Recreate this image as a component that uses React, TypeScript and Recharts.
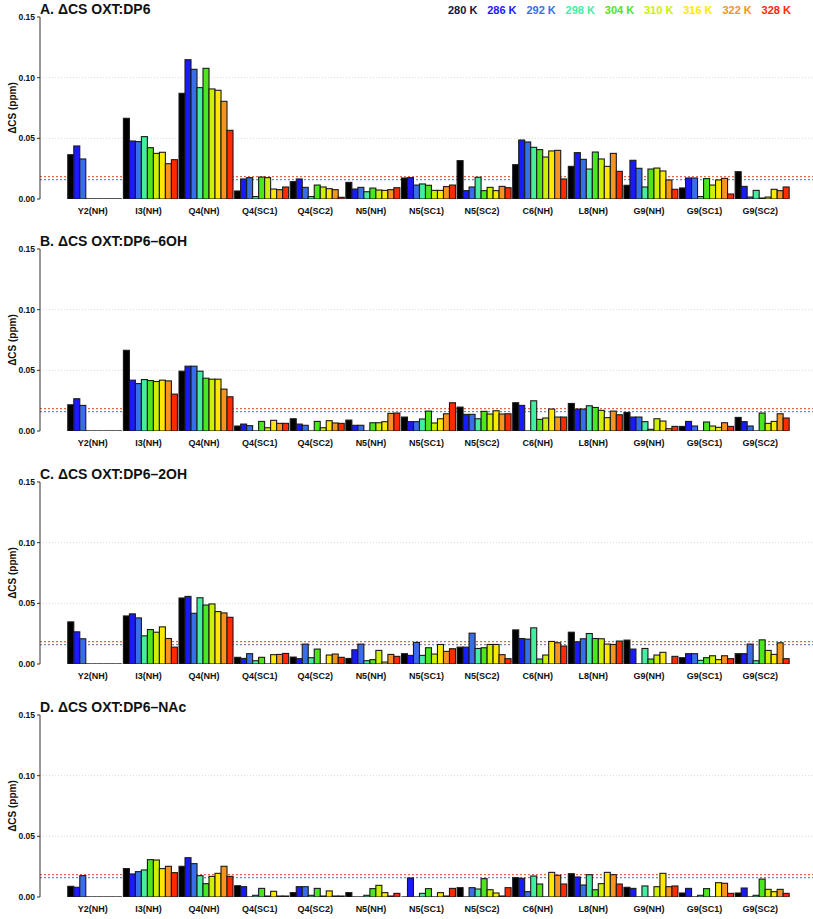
import React from 'react';
import { BarChart, Bar, XAxis, YAxis, CartesianGrid } from 'recharts';

const categories = ['Y2(NH)', 'I3(NH)', 'Q4(NH)', 'Q4(SC1)', 'Q4(SC2)', 'N5(NH)', 'N5(SC1)', 'N5(SC2)', 'C6(NH)', 'L8(NH)', 'G9(NH)', 'G9(SC1)', 'G9(SC2)'];
const temperatures = ['280 K', '286 K', '292 K', '298 K', '304 K', '310 K', '316 K', '322 K', '328 K'];
const barColors = ['#000000', '#1a1aff', '#3a6ee8', '#44eea0', '#4ce61e', '#ccf000', '#ffe800', '#f7931e', '#ff2a00'];
const legendColors = ['#141440', '#1a1aff', '#3a6ee8', '#44eea0', '#4ce61e', '#ccf000', '#ffe800', '#f7931e', '#ff2a00'];
const yTicks = [0, 0.05, 0.1, 0.15];
const gridValues = [0.05, 0.1];
const thresholdRed = 0.0185;
const thresholdBlue = 0.016;

const titles = ['A. \u0394CS OXT:DP6', 'B. \u0394CS OXT:DP6\u20136OH', 'C. \u0394CS OXT:DP6\u20132OH', 'D. \u0394CS OXT:DP6\u2013NAc'];

// rows: one per category, 9 values (280 K ... 328 K)
const panelA = [
  [0.0365, 0.0437, 0.033, 0, 0, 0, 0, 0, 0],
  [0.0665, 0.0478, 0.0473, 0.0514, 0.0423, 0.0376, 0.0385, 0.0291, 0.0324],
  [0.0871, 0.1148, 0.1069, 0.0918, 0.1077, 0.0907, 0.0896, 0.0805, 0.0566],
  [0.0066, 0.0165, 0.0176, 0.002, 0.0181, 0.0176, 0.0082, 0.0077, 0.0099],
  [0.0143, 0.0165, 0.0096, 0.002, 0.0115, 0.0099, 0.0085, 0.0077, 0.0014],
  [0.0137, 0.0082, 0.0096, 0.006, 0.009, 0.0074, 0.0071, 0.0077, 0.0093],
  [0.0173, 0.0176, 0.0115, 0.0124, 0.0113, 0.0071, 0.0071, 0.0102, 0.0115],
  [0.0316, 0.0069, 0.0099, 0.0179, 0.0069, 0.0096, 0.0069, 0.0104, 0.0093],
  [0.0283, 0.0486, 0.047, 0.0426, 0.0407, 0.0346, 0.0396, 0.0401, 0.0165],
  [0.0269, 0.0382, 0.0327, 0.0247, 0.0387, 0.033, 0.0269, 0.0376, 0.0228],
  [0.0113, 0.0319, 0.0253, 0.0099, 0.0247, 0.0255, 0.0231, 0.0157, 0.008],
  [0.0091, 0.0173, 0.0173, 0.002, 0.0168, 0.0115, 0.0157, 0.017, 0.0041],
  [0.0225, 0.0104, 0.0016, 0.0071, 0.0008, 0.0016, 0.008, 0.0069, 0.0099],
];

const panelB = [
  [0.0216, 0.0266, 0.0211, 0, 0, 0, 0, 0, 0],
  [0.0665, 0.0419, 0.0391, 0.0424, 0.0416, 0.0408, 0.0419, 0.0413, 0.0304],
  [0.0493, 0.0534, 0.0534, 0.0493, 0.0435, 0.0427, 0.0427, 0.0345, 0.0282],
  [0.0041, 0.0057, 0.0044, 0, 0.0079, 0.0027, 0.0088, 0.0063, 0.0063],
  [0.0101, 0.0057, 0.0047, 0, 0.0079, 0.0027, 0.0085, 0.0066, 0.0063],
  [0.009, 0.0047, 0.0047, 0, 0.0068, 0.0068, 0.0077, 0.0145, 0.0148],
  [0.0115, 0.0077, 0.0077, 0.0099, 0.0164, 0.0066, 0.0101, 0.0142, 0.0233],
  [0.0197, 0.0137, 0.0137, 0.0101, 0.0162, 0.014, 0.0167, 0.014, 0.0142],
  [0.0233, 0.0211, 0, 0.0249, 0.0096, 0.0107, 0.0181, 0.0115, 0.0115],
  [0.0227, 0.0181, 0.0181, 0.0208, 0.0194, 0.017, 0.011, 0.0164, 0.0134],
  [0.0153, 0.0115, 0.0115, 0.0077, 0.0014, 0.0101, 0.0082, 0.0019, 0.0038],
  [0.0038, 0.0079, 0.0041, 0, 0.0074, 0.0041, 0.003, 0.0068, 0.0038],
  [0.0112, 0.0077, 0.0041, 0, 0.0148, 0.0063, 0.0079, 0.0142, 0.0107],
];

const panelC = [
  [0.0347, 0.0265, 0.0208, 0, 0, 0, 0, 0, 0],
  [0.0396, 0.0413, 0.038, 0.0232, 0.0284, 0.0262, 0.0306, 0.021, 0.0139],
  [0.0544, 0.0557, 0.0418, 0.0546, 0.0486, 0.0495, 0.0432, 0.0421, 0.0385],
  [0.0055, 0.0046, 0.0085, 0.0027, 0.0055, 0, 0.0077, 0.0079, 0.0087],
  [0.0057, 0.0044, 0.0164, 0.0052, 0.0123, 0, 0.0074, 0.0082, 0.0055],
  [0.0046, 0.0117, 0.0164, 0.0027, 0.0036, 0.0112, 0.0016, 0.0079, 0.0063],
  [0.0085, 0.0071, 0.0178, 0.0071, 0.0134, 0.0082, 0.0161, 0.0104, 0.0126],
  [0.0139, 0.0139, 0.0254, 0.0128, 0.0134, 0.0161, 0.0161, 0.0077, 0.0044],
  [0.0281, 0.021, 0.0205, 0.0298, 0.0041, 0.0074, 0.0186, 0.0175, 0.0148],
  [0.0262, 0.0183, 0.0208, 0.0251, 0.021, 0.0208, 0.0164, 0.0161, 0.0189],
  [0.0197, 0.0123, 0, 0.0128, 0.0041, 0.0074, 0.0096, 0, 0.0063],
  [0.0052, 0.0085, 0.0085, 0.003, 0.0052, 0.0068, 0.0036, 0.0068, 0.0044],
  [0.0085, 0.0085, 0.0164, 0.0027, 0.0199, 0.0112, 0.0079, 0.0175, 0.0044],
];

const panelD = [
  [0.0088, 0.008, 0.0176, 0, 0, 0, 0, 0, 0],
  [0.0234, 0.019, 0.0209, 0.0223, 0.0308, 0.0305, 0.0234, 0.0253, 0.0201],
  [0.0253, 0.0324, 0.0275, 0.0176, 0.011, 0.017, 0.0195, 0.0253, 0.017],
  [0.0093, 0.0085, 0, 0.0014, 0.0071, 0.0008, 0.0047, 0.0008, 0.0008],
  [0.0036, 0.0085, 0.0085, 0.0014, 0.0071, 0.0008, 0.005, 0.0008, 0.0008],
  [0.0036, 0, 0, 0.0014, 0.0069, 0.0096, 0.0036, 0.0008, 0.003],
  [0, 0.0157, 0, 0.003, 0.0069, 0, 0.0036, 0.0008, 0.0071],
  [0.0077, 0, 0.0077, 0.0066, 0.0151, 0.006, 0.0033, 0.0008, 0.0077],
  [0.0159, 0.0154, 0.0044, 0.0173, 0.0107, 0, 0.0203, 0.0179, 0.0107],
  [0.0192, 0.0165, 0.0099, 0.0184, 0.006, 0.011, 0.0203, 0.0184, 0.0107],
  [0.008, 0.0071, 0, 0.0091, 0, 0.0085, 0.0195, 0.0085, 0.0091],
  [0.0033, 0.0071, 0, 0.0014, 0.0069, 0, 0.0118, 0.0113, 0.003],
  [0.0033, 0.0074, 0, 0.0014, 0.0148, 0.0063, 0.0044, 0.0063, 0.003],
];

const panels = [panelA, panelB, panelC, panelD];
const panelTops = [0, 232, 465, 698];

const FONT = '"Liberation Sans", Arial, Helvetica, sans-serif';

function buildRows(panel: number[][]) {
  return categories.map((cat, i) => {
    const row: any = { cat };
    temperatures.forEach((t, j) => {
      row[t] = panel[i][j];
    });
    return row;
  });
}

function BarShape(props: any) {
  const { x, y, width, height, fill } = props;
  const h = Number(height) || 0;
  if (h < 0.8) {
    const base = y + h;
    return <line x1={x} x2={x + width} y1={base} y2={base} stroke="#1a1a1a" strokeWidth={1.4} />;
  }
  return <rect x={x} y={y} width={width} height={h} fill={fill} stroke="#1a1a1a" strokeWidth={1.1} />;
}

function YLabel(props: any) {
  const vb = props.viewBox || { x: 0, y: 17, width: 40, height: 182 };
  const cx = 12;
  const cy = vb.y + vb.height / 2;
  return (
    <text x={cx} y={cy} transform={`rotate(-90 ${cx} ${cy})`} textAnchor="middle" dominantBaseline="central"
      fontFamily={FONT} fontWeight="bold" fontSize={10} fill="#111">
      {'\u0394CS (ppm)'}
    </text>
  );
}

function Panel({ panel }: { panel: number[][] }) {
  const data = buildRows(panel);
  return (
    <BarChart width={813} height={225} data={data} margin={{ top: 17, right: 0, left: 0, bottom: 0 }}
      barCategoryGap="5%" barGap={0}>
      <CartesianGrid vertical={false} horizontalValues={gridValues} stroke="#d8d8d8" strokeDasharray="1 2" />
      <CartesianGrid vertical={false} horizontalValues={[thresholdRed]} stroke="#e0694c" strokeDasharray="2 2" strokeWidth={1.2} />
      <CartesianGrid vertical={false} horizontalValues={[thresholdBlue]} stroke="#6f8ba6" strokeDasharray="2 2" strokeWidth={1.2} />
      <XAxis dataKey="cat" height={26} tickLine={false} axisLine={false} interval={0} tickSize={6} tickMargin={3}
        padding={{ left: 25, right: 25 }}
        tick={{ fontFamily: FONT, fontWeight: 'bold', fontSize: 9, fill: '#111' }} />
      <YAxis width={40} domain={[0, 0.15]} ticks={yTicks} allowDataOverflow
        tickFormatter={(v: number) => v.toFixed(2)} tickSize={3} tickMargin={2}
        axisLine={{ stroke: '#333', strokeWidth: 1 }} tickLine={{ stroke: '#333' }}
        tick={{ fontFamily: FONT, fontWeight: 'bold', fontSize: 8.5, fill: '#111' }}
        label={<YLabel />} />
      {temperatures.map((t, j) => (
        <Bar key={t} dataKey={t} fill={barColors[j]} isAnimationActive={false} shape={<BarShape />} />
      ))}
    </BarChart>
  );
}

export default function App() {
  return (
    <div style={{ position: 'absolute', left: 0, top: 0, width: 813, height: 919, overflow: 'hidden', background: '#fff' }}>
      {panels.map((p, i) => (
        <div key={i} style={{ position: 'absolute', left: 0, top: panelTops[i] }}>
          <Panel panel={p} />
        </div>
      ))}
      <svg width={813} height={919} style={{ position: 'absolute', left: 0, top: 0, pointerEvents: 'none' }}>
        {titles.map((t, i) => (
          <text key={t} x={40} y={panelTops[i] + 14} fontFamily={FONT} fontWeight="bold" fontSize={14} fill="#111">{t}</text>
        ))}
        {temperatures.map((t, j) => (
          <text key={t} x={448 + j * 39.2} y={14} fontFamily={FONT} fontWeight="bold" fontSize={11} fill={legendColors[j]}>{t}</text>
        ))}
      </svg>
    </div>
  );
}
